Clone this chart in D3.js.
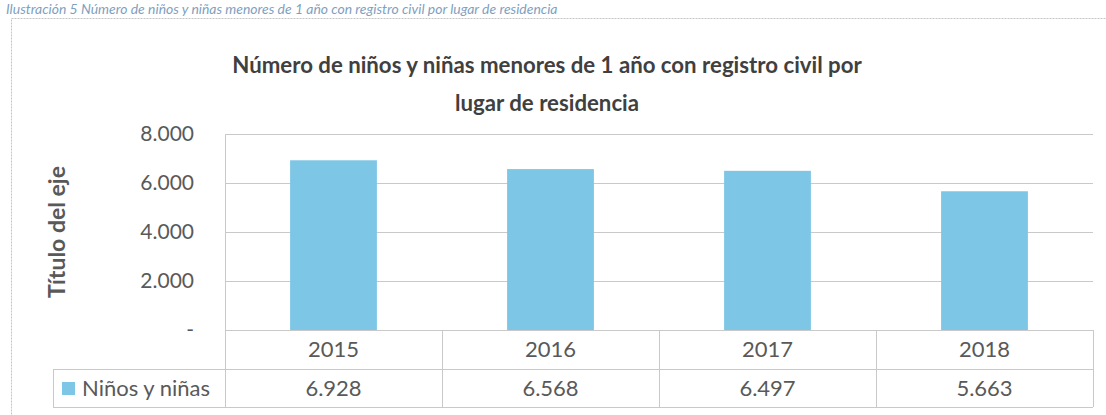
<!DOCTYPE html>
<html>
<head>
<meta charset="utf-8">
<script src="https://cdn.jsdelivr.net/npm/d3@7"></script>
<style>
  html, body { margin: 0; padding: 0; background: #fff; }
  svg { display: block; font-family: Lato, "Open Sans", sans-serif; }
</style>
</head>
<body>
<svg id="chart" width="1106" height="415"></svg>
<script>
// data
const years = ["2015", "2016", "2017", "2018"]
const values = [6928, 6568, 6497, 5663]
const yTicks = [0, 2000, 4000, 6000, 8000]
const seriesName = "Niños y niñas"
const caption = "Ilustración 5 Número de niños y niñas menores de 1 año con registro civil por lugar de residencia"
const titleLines = ["Número de niños y niñas menores de 1 año con registro civil por", "lugar de residencia"]
const axisTitle = "Título del eje"

const svg = d3.select("#chart")
const plot = { left: 225, right: 1093, top: 134, bottom: 330 }
const rowH = [39, 38]
const legendLeft = 53

const gridColor = "#c9c9c9"
const textColor = "#595959"
const barColor = "#7ec6e6"

const es = d3.formatLocale({ decimal: ",", thousands: ".", grouping: [3], currency: ["", ""] })
const fmt = es.format(",d")

// shrink/grow font so text spans a given width
function fitWidth(text, width) {
  const size = parseFloat(text.attr("font-size"))
  const len = text.node().getComputedTextLength()
  text.attr("font-size", size * width / len)
}

// caption above the chart
const cap = svg.append("text")
  .attr("x", 6).attr("y", 14)
  .attr("font-size", 17)
  .attr("font-style", "italic")
  .attr("fill", "#7f9fbf")
  .text(caption)
fitWidth(cap, 552)

// outer chart frame
svg.append("rect")
  .attr("x", 11.5).attr("y", 18.5)
  .attr("width", 1110).attr("height", 420)
  .attr("fill", "none")
  .attr("stroke", "#c4c4c4")
  .attr("stroke-dasharray", "2,1")

// title
const t1 = svg.append("text")
  .attr("x", 547).attr("y", 73)
  .attr("text-anchor", "middle")
  .attr("font-size", 26).attr("font-weight", "bold")
  .attr("fill", "#404040")
  .text(titleLines[0])
fitWidth(t1, 630)
svg.append("text")
  .attr("x", 547).attr("y", 111)
  .attr("text-anchor", "middle")
  .attr("font-size", t1.attr("font-size")).attr("font-weight", "bold")
  .attr("fill", "#404040")
  .text(titleLines[1])

// scales
const y = d3.scaleLinear().domain([0, 8000]).range([plot.bottom, plot.top])
const xCol = d3.scaleBand().domain(years).range([plot.left, plot.right])
const xBar = d3.scaleBand().domain(years).range([plot.left, plot.right])
  .paddingInner(0.6).paddingOuter(0.3)

// gridlines
svg.append("g")
  .selectAll("line")
  .data(yTicks)
  .join("line")
  .attr("x1", plot.left).attr("x2", plot.right)
  .attr("y1", d => Math.round(y(d)) + 0.5).attr("y2", d => Math.round(y(d)) + 0.5)
  .attr("stroke", gridColor)

// y axis labels
const yAxis = svg.append("g")
  .attr("transform", `translate(${plot.left},0)`)
  .call(d3.axisLeft(y).tickValues(yTicks).tickSize(0).tickPadding(31)
    .tickFormat(d => d === 0 ? "-" : fmt(d)))
yAxis.select(".domain").remove()
yAxis.selectAll("text")
  .attr("font-size", 21)
  .attr("font-family", "Lato, sans-serif")
  .attr("fill", textColor)

// y axis title
svg.append("text")
  .attr("transform", `translate(65,232) rotate(-90)`)
  .attr("text-anchor", "middle")
  .attr("font-size", 23).attr("font-weight", "bold")
  .attr("fill", textColor)
  .text(axisTitle)

// bars
svg.append("g")
  .selectAll("rect")
  .data(values)
  .join("rect")
  .attr("x", (d, i) => xBar(years[i]))
  .attr("width", xBar.bandwidth())
  .attr("y", d => y(d))
  .attr("height", d => y(0) - y(d))
  .attr("fill", barColor)

// data table
const tTop = plot.bottom
const tMid = tTop + rowH[0]
const tBot = tMid + rowH[1]
const table = svg.append("g").attr("stroke", gridColor).attr("shape-rendering", "crispEdges")
table.append("line").attr("x1", plot.left).attr("x2", plot.right).attr("y1", tTop).attr("y2", tTop)
table.append("line").attr("x1", legendLeft).attr("x2", plot.right).attr("y1", tMid).attr("y2", tMid)
table.append("line").attr("x1", legendLeft).attr("x2", plot.right).attr("y1", tBot).attr("y2", tBot)
table.append("line").attr("x1", legendLeft).attr("x2", legendLeft).attr("y1", tMid).attr("y2", tBot)
table.append("line").attr("x1", plot.left).attr("x2", plot.left).attr("y1", plot.top).attr("y2", tBot)
table.selectAll(".col")
  .data(years)
  .join("line")
  .attr("x1", d => xCol(d) + xCol.bandwidth()).attr("x2", d => xCol(d) + xCol.bandwidth())
  .attr("y1", tTop).attr("y2", tBot)

svg.append("g")
  .selectAll("text")
  .data(years)
  .join("text")
  .attr("x", d => xCol(d) + xCol.bandwidth() / 2)
  .attr("y", tTop + 27)
  .attr("text-anchor", "middle")
  .attr("font-size", 22)
  .attr("fill", textColor)
  .text(d => d)

svg.append("g")
  .selectAll("text")
  .data(values)
  .join("text")
  .attr("x", (d, i) => xCol(years[i]) + xCol.bandwidth() / 2)
  .attr("y", tMid + 27)
  .attr("text-anchor", "middle")
  .attr("font-size", 22)
  .attr("fill", textColor)
  .text(d => fmt(d))

// legend key in the table
svg.append("rect")
  .attr("x", 62).attr("y", tMid + 13)
  .attr("width", 13).attr("height", 13)
  .attr("fill", barColor)
svg.append("text")
  .attr("x", 82).attr("y", tMid + 27)
  .attr("font-size", 22)
  .attr("fill", textColor)
  .text(seriesName)
</script>
</body>
</html>
